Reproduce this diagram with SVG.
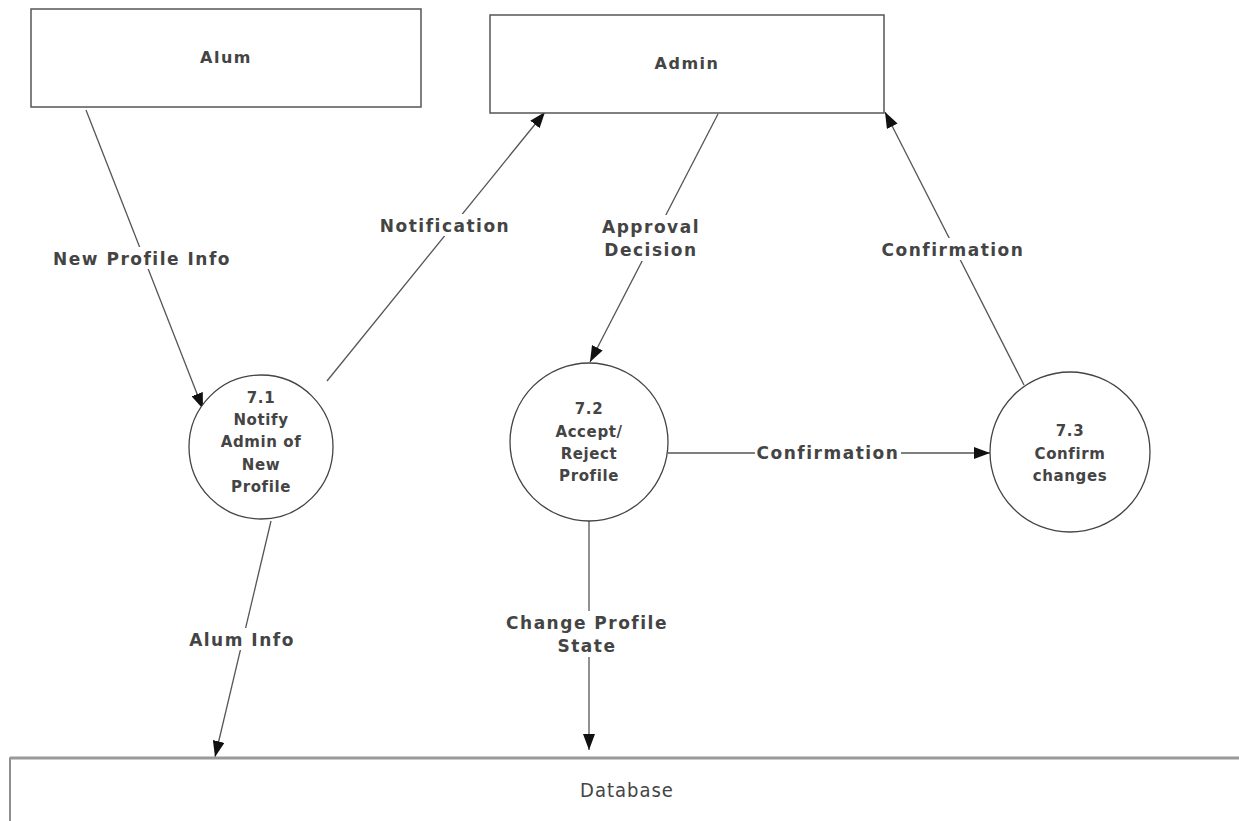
<svg xmlns="http://www.w3.org/2000/svg" width="1239" height="821" viewBox="0 0 1239 821">
<defs>
<marker id="arr" viewBox="0 0 16 12" refX="16" refY="6" markerWidth="16" markerHeight="12" markerUnits="userSpaceOnUse" orient="auto">
<path d="M0,0 L16,6 L0,12 Z" fill="#111"/>
</marker>
</defs>
<style>
.box{fill:#fff;stroke:#555;stroke-width:1.5}
.proc{fill:#fff;stroke:#444;stroke-width:1.3}
.t{font-family:"DejaVu Sans",Verdana,sans-serif;font-weight:bold;font-size:17px;letter-spacing:1.5px;fill:#444;text-anchor:middle}
.n{font-family:"DejaVu Sans",Verdana,sans-serif;font-weight:bold;font-size:15px;letter-spacing:0.6px;fill:#444;text-anchor:middle}
.h{font-family:"DejaVu Sans",Verdana,sans-serif;font-weight:bold;font-size:16px;letter-spacing:1.5px;fill:#444;text-anchor:middle}
.db{font-family:"DejaVu Sans Condensed","DejaVu Sans",sans-serif;font-stretch:condensed;font-size:20px;letter-spacing:1px;fill:#444;text-anchor:middle}
.c{fill:none;stroke:#555;stroke-width:1.3;marker-end:url(#arr)}
.lb{fill:#fff}
</style>
<rect width="1239" height="821" fill="#fff"/>
<g id="connectors">
<line class="c" x1="86" y1="110" x2="203" y2="409"/>
<line class="c" x1="327" y1="381" x2="545" y2="112"/>
<line class="c" x1="718" y1="114" x2="590" y2="362"/>
<line class="c" x1="1024" y1="385" x2="885" y2="112"/>
<line class="c" x1="668" y1="453" x2="990" y2="453"/>
<line class="c" x1="271" y1="521" x2="215" y2="757"/>
<line class="c" x1="589" y1="521" x2="589" y2="750"/>
<g id="labels">
<rect class="lb" x="48" y="247" width="190" height="22"/>
<text class="t" x="142" y="265">New Profile Info</text>
<rect class="lb" x="378" y="214" width="134" height="22"/>
<text class="t" x="445" y="232">Notification</text>
<rect class="lb" x="600" y="215" width="104" height="46"/>
<text class="t" x="651" y="233">Approval</text>
<text class="t" x="651" y="256">Decision</text>
<rect class="lb" x="878" y="238" width="150" height="22"/>
<text class="t" x="953" y="256">Confirmation</text>
<rect class="lb" x="755" y="442" width="146" height="22"/>
<text class="t" x="828" y="459">Confirmation</text>
<rect class="lb" x="186" y="628" width="114" height="22"/>
<text class="t" x="242" y="646">Alum Info</text>
<rect class="lb" x="503" y="611" width="170" height="46"/>
<text class="t" x="587" y="629">Change Profile</text>
<text class="t" x="587" y="652">State</text>
</g>
</g>
<g id="alum">
<rect class="box" x="31" y="9" width="390" height="98"/>
<text class="h" x="226" y="63">Alum</text>
</g>
<g id="admin">
<rect class="box" x="490" y="15" width="394" height="98"/>
<text class="h" x="687" y="69">Admin</text>
</g>
<g id="p71">
<circle class="proc" cx="261" cy="447" r="72"/>
<text class="n" x="261" y="403">7.1</text>
<text class="n" x="261" y="425">Notify</text>
<text class="n" x="261" y="447">Admin of</text>
<text class="n" x="261" y="470">New</text>
<text class="n" x="261" y="492">Profile</text>
</g>
<g id="p72">
<circle class="proc" cx="589" cy="442" r="79"/>
<text class="n" x="589" y="414">7.2</text>
<text class="n" x="589" y="437">Accept/</text>
<text class="n" x="589" y="459">Reject</text>
<text class="n" x="589" y="481">Profile</text>
</g>
<g id="p73">
<circle class="proc" cx="1070" cy="452" r="80"/>
<text class="n" x="1070" y="436">7.3</text>
<text class="n" x="1070" y="459">Confirm</text>
<text class="n" x="1070" y="481">changes</text>
</g>
<g id="database">
<rect x="10" y="758" width="1240" height="80" fill="#fff" stroke="#555" stroke-width="1.3"/>
<line x1="10" y1="758" x2="1239" y2="758" stroke="#999" stroke-width="3"/>
<text class="db" x="627" y="797">Database</text>
</g>
</svg>
